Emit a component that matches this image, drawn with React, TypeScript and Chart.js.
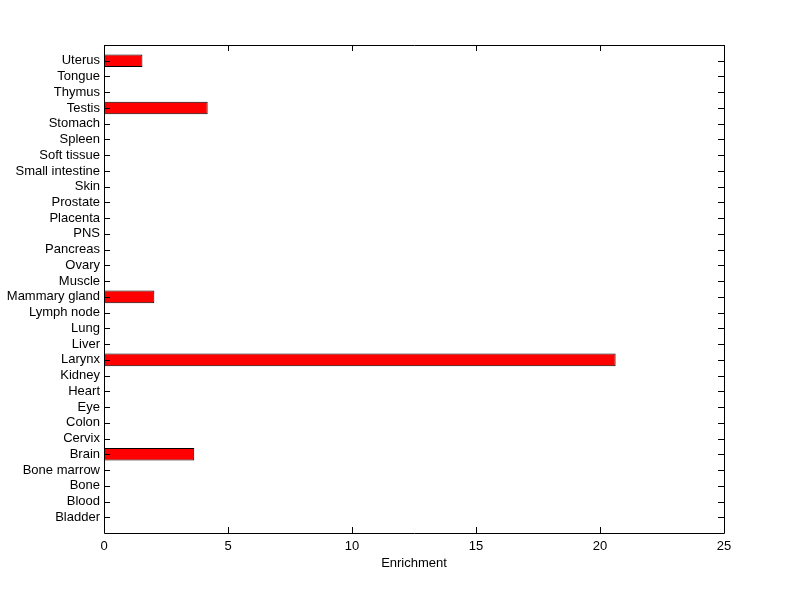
import React, { useEffect, useRef } from 'react';
import { Chart, registerables } from 'chart.js';

Chart.register(...registerables);

const categories = [
  'Bladder', 'Blood', 'Bone', 'Bone marrow', 'Brain', 'Cervix', 'Colon', 'Eye', 'Heart', 'Kidney',
  'Larynx', 'Liver', 'Lung', 'Lymph node', 'Mammary gland', 'Muscle', 'Ovary', 'Pancreas', 'PNS',
  'Placenta', 'Prostate', 'Skin', 'Small intestine', 'Soft tissue', 'Spleen', 'Stomach', 'Testis',
  'Thymus', 'Tongue', 'Uterus',
];
const enrichment = [
  0, 0, 0, 0, 3.64, 0, 0, 0, 0, 0,
  20.63, 0, 0, 0, 2.03, 0, 0, 0, 0,
  0, 0, 0, 0, 0, 0, 0, 4.18,
  0, 0, 1.55,
];
const xMin = 0;
const xMax = 25;
const xStep = 5;
const axisTitle = 'Enrichment';

const FONT = { family: '"Liberation Sans", Arial, Helvetica, sans-serif', size: 13 };

const boxPlugin = {
  id: 'matlabBox',
  afterDraw(chart: any) {
    const { ctx, chartArea } = chart;
    const { left, right, top, bottom } = chartArea;
    const xs = chart.scales.x;
    const ys = chart.scales.y;
    const tl = 6;
    ctx.save();
    ctx.strokeStyle = '#000';
    ctx.lineWidth = 1;
    ctx.beginPath();
    ctx.rect(Math.round(left) + 0.5, Math.round(top) + 0.5, Math.round(right - left), Math.round(bottom - top));
    xs.ticks.forEach((t: any) => {
      const px = Math.round(xs.getPixelForValue(t.value)) + 0.5;
      ctx.moveTo(px, bottom);
      ctx.lineTo(px, bottom - tl);
      ctx.moveTo(px, top);
      ctx.lineTo(px, top + tl);
    });
    ys.ticks.forEach((t: any, i: number) => {
      const lbl = chart.data.labels[i];
      if (!lbl) return;
      const py = Math.round(ys.getPixelForTick(i)) + 0.5;
      ctx.moveTo(left, py);
      ctx.lineTo(left + tl, py);
      ctx.moveTo(right, py);
      ctx.lineTo(right - tl, py);
    });
    ctx.stroke();
    ctx.restore();
  },
};

export default function App() {
  const ref = useRef<HTMLCanvasElement | null>(null);
  useEffect(() => {
    document.body.style.margin = '0';
    const labels = ['', ...categories.slice().reverse(), ''];
    const values = [null, ...enrichment.slice().reverse(), null];
    const chart = new Chart(ref.current as HTMLCanvasElement, {
      type: 'bar',
      data: {
        labels,
        datasets: [
          {
            data: values as any,
            backgroundColor: '#ff0000',
            borderColor: '#000000',
            borderWidth: 1,
            borderSkipped: false,
            barPercentage: 0.8,
            categoryPercentage: 1,
          },
        ],
      },
      options: {
        indexAxis: 'y',
        animation: false,
        responsive: false,
        devicePixelRatio: 1,
        layout: { padding: { top: 45, right: 76, left: 0, bottom: 0 } },
        plugins: { legend: { display: false }, tooltip: { enabled: false } },
        scales: {
          x: {
            type: 'linear',
            min: xMin,
            max: xMax,
            ticks: { stepSize: xStep, color: '#000', font: FONT, padding: 6 },
            grid: { display: false, drawTicks: false },
            border: { display: false },
            title: { display: true, text: axisTitle, color: '#000', font: FONT, padding: { top: 4, bottom: 28 } },
            afterFit: (s: any) => { s.height = 66; },
          },
          y: {
            type: 'category',
            offset: false,
            ticks: { autoSkip: false, color: '#000', font: FONT, padding: 4 },
            grid: { display: false, drawTicks: false },
            border: { display: false },
            afterFit: (s: any) => { s.width = 104; },
          },
        },
      },
      plugins: [boxPlugin],
    });
    return () => chart.destroy();
  }, []);
  return (
    <div style={{ position: 'absolute', left: 0, top: 0, width: 800, height: 599, background: '#fff' }}>
      <canvas ref={ref} width={800} height={599} style={{ display: 'block' }} />
    </div>
  );
}
